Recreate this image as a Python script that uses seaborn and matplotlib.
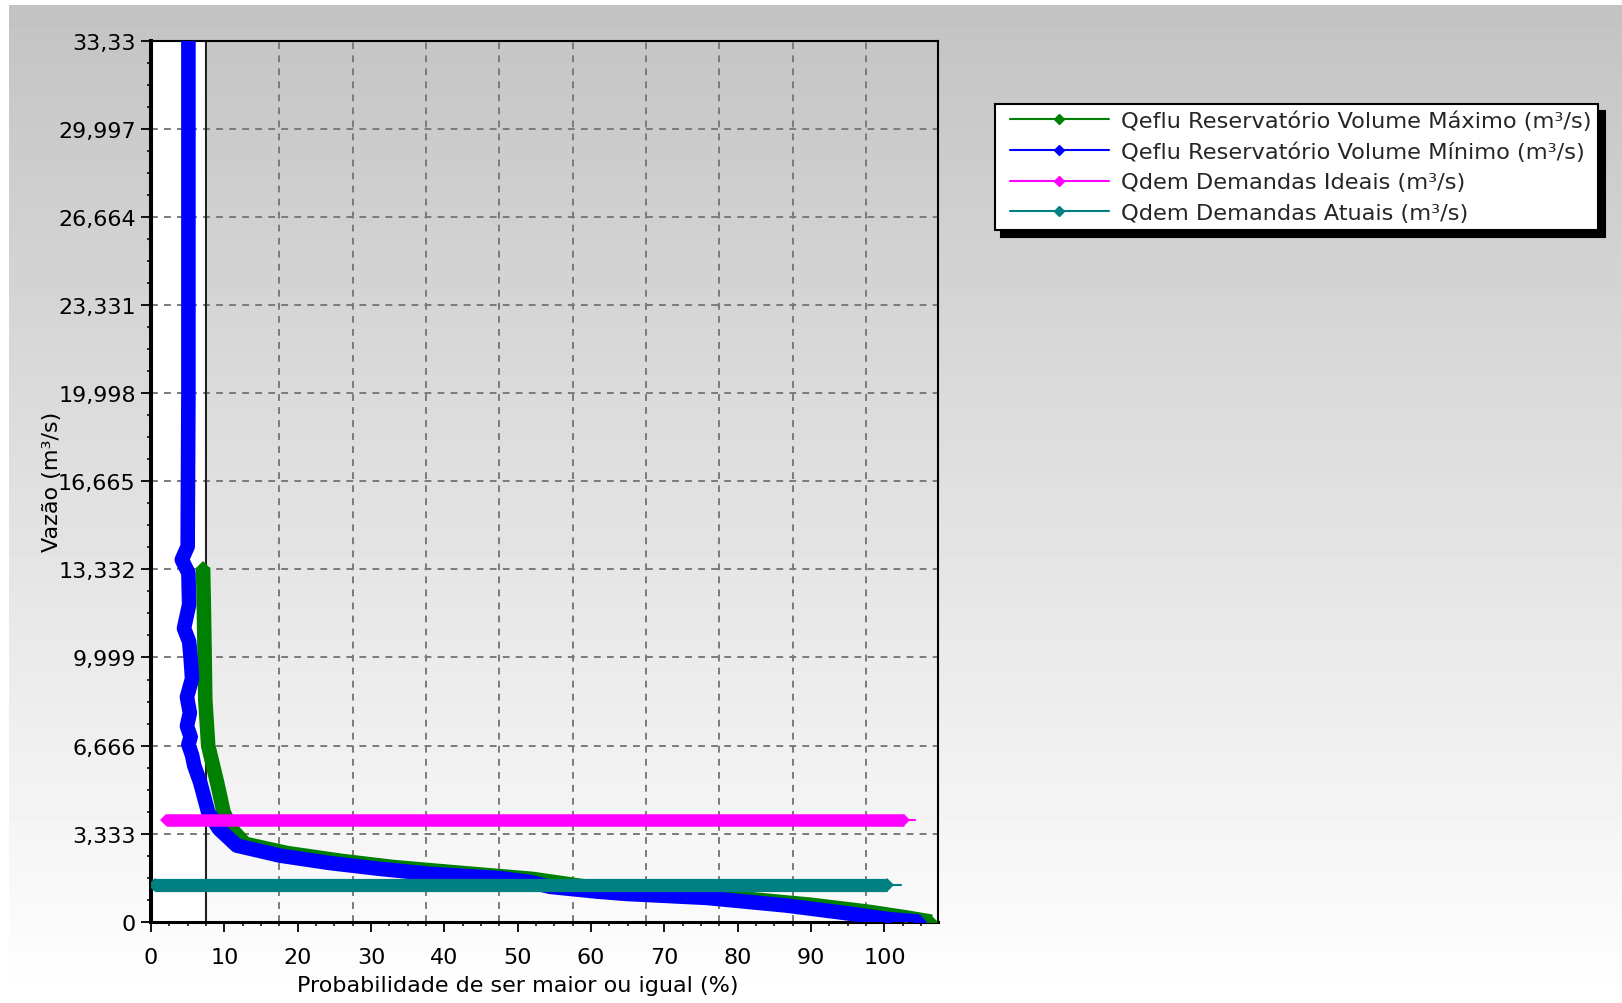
import numpy as np
import pandas as pd
import matplotlib
matplotlib.use("Agg")
import matplotlib.pyplot as plt
from matplotlib.lines import Line2D
from matplotlib.legend_handler import HandlerLine2D
from matplotlib.ticker import FixedLocator, MultipleLocator
import seaborn as sns

# curvas de permanencia
max_x = [7.1, 7.2, 7.3, 7.4, 7.8, 9.0, 9.9, 11.0, 12.8, 18.5, 26.0, 33.0, 40.0,
         52.0, 62.0, 78.0, 90.0, 98.0, 103.0, 106.4]
max_y = [13.4, 12.0, 10.3, 8.4, 6.66, 5.28, 4.14, 3.5, 2.95, 2.6, 2.3, 2.07, 1.9,
         1.62, 1.22, 0.95, 0.64, 0.37, 0.16, 0.0]

min_x = [5.1, 5.1, 5.0, 4.2, 5.1, 5.2, 4.5, 5.2, 5.4, 5.6, 4.9, 5.3, 4.9, 5.4, 5.1,
         5.6, 5.9, 6.7, 7.8, 9.3, 11.7, 17.6, 24.4, 31.2, 38.0, 47.6, 51.7, 54.4,
         60.8, 64.9, 75.8, 86.7, 95.7, 100.5, 104.8]
min_y = [36.0, 20.0, 14.2, 13.7, 13.2, 12.0, 11.1, 10.6, 10.0, 9.2, 8.5, 7.9, 7.4,
         7.0, 6.7, 6.3, 5.9, 5.28, 4.14, 3.5, 2.88, 2.5, 2.22, 2.0, 1.81, 1.65, 1.5,
         1.32, 1.14, 1.05, 0.9, 0.61, 0.29, 0.1, 0.0]

ideal_x = [2.1, 35.0, 102.6, 104.2]
ideal_y = [3.85, 3.85, 3.85, 3.85]

atual_x = [0.5, 100.3, 102.3]
atual_y = [1.38, 1.38, 1.38]

series_names = ["Qeflu Reservatório Volume Máximo (m³/s)",
                "Qeflu Reservatório Volume Mínimo (m³/s)",
                "Qdem Demandas Ideais (m³/s)",
                "Qdem Demandas Atuais (m³/s)"]
series_colors = ["#008000", "#0000ff", "#ff00ff", "#008080"]

y_ticks = [0, 3.333, 6.666, 9.999, 13.332, 16.665, 19.998, 23.331, 26.664, 29.997, 33.33]
y_labels = ["0", "3,333", "6,666", "9,999", "13,332", "16,665", "19,998",
            "23,331", "26,664", "29,997", "33,33"]
x_ticks = [0, 10, 20, 30, 40, 50, 60, 70, 80, 90, 100]

sns.set_theme(style="ticks")
plt.rcParams["font.family"] = ["DejaVu Sans"]

W, H = 1622, 1004
fig = plt.figure(figsize=(W / 100, H / 100), dpi=100, facecolor="white")

# fundo em degrade
bg = fig.add_axes([9 / W, 0, 1 - 9 / W, 1 - 6 / H], zorder=-10)
grad = np.linspace(195, 255, 256) / 255
bg.imshow(grad[:, None], aspect="auto", cmap="gray", vmin=0, vmax=1,
          extent=[0, 1, 0, 1])
bg.axis("off")

ax = fig.add_axes([151 / W, (H - 922.7) / H, 787 / W, 880.7 / H])
ax.patch.set_alpha(0)

ax.axvspan(0, 7.5, color="white", zorder=0)
for yy in y_ticks[1:-1]:
    ax.axhline(yy, color="#7a7a7a", ls=(0, (3.5, 3.2)), lw=1.4, zorder=1)
for xx in np.arange(17.5, 100, 10):
    ax.axvline(xx, color="#7a7a7a", ls=(0, (3.5, 3.2)), lw=1.4, zorder=1)
ax.axvline(7.5, color="#202020", lw=1.5, zorder=1.5)

datasets = [(max_x, max_y), (min_x, min_y), (ideal_x[:-1], ideal_y[:-1]),
            (atual_x[:-1], atual_y[:-1])]
widths = [10.5, 10.5, 9.0, 9.5]
for i, ((xs, ys), col, w) in enumerate(zip(datasets, series_colors, widths)):
    df = pd.DataFrame({"x": xs, "y": ys})
    sns.lineplot(data=df, x="x", y="y", sort=False, estimator=None, color=col,
                 lw=w, marker="D", markersize=w * 0.72, markeredgewidth=0,
                 markeredgecolor=col, solid_capstyle="butt", ax=ax,
                 legend=False, zorder=3 + i)

# pontas finas
ax.plot(ideal_x[-2:], ideal_y[-2:], color=series_colors[2], lw=1.5, zorder=5)
ax.plot(atual_x[-2:], atual_y[-2:], color=series_colors[3], lw=1.5, zorder=6)

ax.set_xlim(0, 107.3)
ax.set_ylim(0, 33.33)
ax.set_xticks(x_ticks)
ax.set_yticks(y_ticks, labels=y_labels)
ax.xaxis.set_minor_locator(MultipleLocator(2.5))
ax.yaxis.set_minor_locator(FixedLocator(np.linspace(0, 33.33, 41)))
ax.tick_params(which="major", direction="out", length=7, width=1.3,
               labelsize=16, color="black", labelcolor="black")
ax.tick_params(axis="y", which="major", pad=4)
ax.tick_params(axis="x", which="major", pad=11)
ax.tick_params(which="minor", direction="out", length=3, width=1.1, color="black")

for side, lw in [("left", 2.9), ("bottom", 2.2), ("top", 1.5), ("right", 1.5)]:
    ax.spines[side].set_visible(True)
    ax.spines[side].set_color("black")
    ax.spines[side].set_linewidth(lw)

ax.set_xlabel("Probabilidade de ser maior ou igual (%)", fontsize=16, color="black")
ax.xaxis.set_label_coords(0.466, -0.060)
ax.set_ylabel("Vazão (m³/s)", fontsize=16, color="black")
ax.yaxis.set_label_coords(-0.113, 0.5)

handles = [Line2D([0], [0], color=c, lw=1.5, marker="D", markersize=5) for c in series_colors]
leg = ax.legend(handles, series_names, loc="upper left",
                bbox_to_anchor=(995 / W, 1 - 104.5 / H), bbox_transform=fig.transFigure,
                handler_map={Line2D: HandlerLine2D(xpad=0.35)},
                frameon=True, fancybox=False, fontsize=16.2, handlelength=4.75,
                handletextpad=0.55, borderpad=0.3, labelspacing=0.47,
                borderaxespad=0,
                shadow={"ox": 4.5, "oy": -5.5, "facecolor": "black",
                        "edgecolor": "black", "alpha": 1})
leg.get_frame().set_edgecolor("black")
leg.get_frame().set_linewidth(1.5)
leg.get_frame().set_facecolor("white")
leg.get_frame().set_alpha(1)

fig.savefig("out.png", dpi=100, facecolor=fig.get_facecolor())
